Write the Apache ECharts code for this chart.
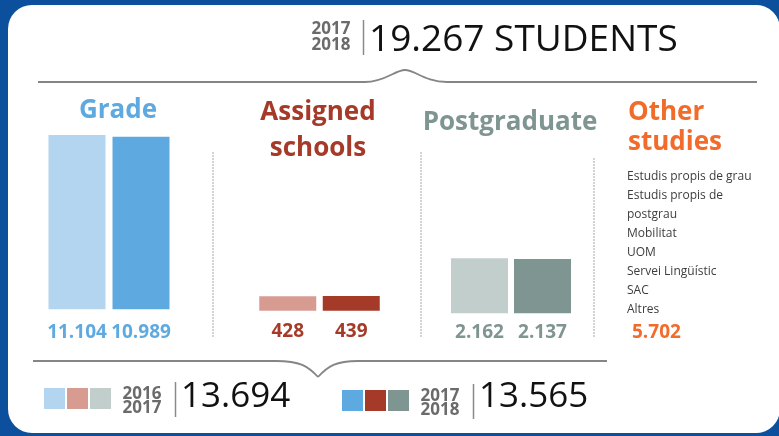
<!DOCTYPE html>
<html>
<head>
<meta charset="utf-8">
<script src="https://cdn.jsdelivr.net/npm/echarts@6/dist/echarts.min.js"></script>
<style>
  html, body { margin: 0; padding: 0; background: #0b4f9d; }
  #card {
    position: absolute; left: 8px; top: 5px; width: 772px; height: 428px;
    background: #fff; border-radius: 24px;
  }
  #chart { position: absolute; left: 0; top: 0; width: 779px; height: 436px; }
</style>
</head>
<body>
<div id="card"></div>
<div id="chart"></div>
<script>
// data
const groups = ['Grade', 'Assigned schools', 'Postgraduate']
const years = ['2016\n2017', '2017\n2018']
const values1617 = [11104, 428, 2162]
const values1718 = [10989, 439, 2137]
const yearTotals = [13694, 13565]
const totalStudents = 19267
const totalYear = '2017\n2018'
const otherTitle = 'Other studies'
const otherStudies = ['Estudis propis de grau', 'Estudis propis de\npostgrau', 'Mobilitat', 'UOM', 'Servei Lingüístic', 'SAC', 'Altres']
const otherTotal = 5702

// styles
const lightColors = ['#b3d5f0', '#d79b92', '#c2cecb']
const darkColors = ['#5eaae0', '#a63a28', '#7f9592']
const orange = '#f26b2a'
const FONT = '"Open Sans", "Noto Sans", sans-serif'

// layout per group (px)
const gridBoxes = [
  { left: 45, width: 128, top: 135, height: 174.3, labelDist: 14 },
  { left: 256, width: 127, top: 296, height: 14.7, labelDist: 11 },
  { left: 448, width: 126, top: 258.3, height: 55, labelDist: 10 },
]
const titleBoxes = [
  { x: 118, y: 111, lineHeight: 34 },
  { x: 318, y: 131, lineHeight: 36 },
  { x: 510, y: 123, lineHeight: 34 },
]
const separators = [[213, 152], [421, 152], [594, 158]]

// 11104 -> 11.104
const fmt = v => String(v).replace(/\B(?=(\d{3})+(?!\d))/g, '.')

const chart = echarts.init(document.getElementById('chart'), null, { renderer: 'canvas' })

const text = (x, y, str, font, fill, align = 'left', extra = {}) => ({
  type: 'text',
  x,
  y,
  style: {
    text: str,
    font,
    fill,
    align,
    textAlign: align,
    verticalAlign: 'middle',
    textVerticalAlign: 'middle',
    ...extra,
  },
})
const line = (x1, y1, x2, y2, stroke, lineWidth, lineDash) => ({
  type: 'line',
  shape: { x1, y1, x2, y2 },
  style: { stroke, lineWidth, lineDash },
})
const curve = (x1, y1, cpx1, cpy1, cpx2, cpy2, x2, y2) => ({
  type: 'bezierCurve',
  shape: { x1, y1, cpx1, cpy1, cpx2, cpy2, x2, y2 },
  style: { stroke: '#858585', lineWidth: 1.8, fill: null },
})

function buildGraphic() {
  const els = []
  // top header
  els.push(text(331, 37, totalYear, `bold 17px ${FONT}`, '#6b6b6b', 'center', { lineHeight: 16 }))
  els.push(line(363.5, 20, 363.5, 55, '#8a8a8a', 1.5))
  els.push(text(369, 40, fmt(totalStudents) + ' STUDENTS', `37px ${FONT}`, '#111'))
  // top brace
  els.push(line(38, 82, 365, 82, '#858585', 1.8))
  els.push(curve(365, 82, 385, 82, 395, 70, 405, 70))
  els.push(curve(405, 70, 415, 70, 425, 82, 447, 82))
  els.push(line(447, 82, 757, 82, '#858585', 1.8))
  // group titles
  groups.forEach((g, i) => {
    const t = titleBoxes[i]
    els.push(text(t.x, t.y, g.replace(' ', '\n'), `bold 26px ${FONT}`, darkColors[i], 'center', { lineHeight: t.lineHeight }))
  })
  els.push(text(628, 128, otherTitle.replace(' ', '\n'), `bold 26px ${FONT}`, orange, 'left', { lineHeight: 30 }))
  // dashed separators
  separators.forEach(([x, y]) => els.push(line(x, y, x, 337, '#a8a8a8', 1, [2, 1])))
  // other studies list
  els.push(text(627, 243, otherStudies.join('\n'), `12px ${FONT}`, '#3d3d3d', 'left', { lineHeight: 19 }))
  els.push(text(632, 333, fmt(otherTotal), `bold 19px ${FONT}`, orange))
  // bottom brace
  els.push(line(33, 361, 276, 361, '#858585', 1.8))
  els.push(curve(276, 361, 300, 361, 308, 366, 318, 377))
  els.push(curve(318, 377, 328, 366, 336, 361, 358, 361))
  els.push(line(358, 361, 607, 361, '#858585', 1.8))
  // bottom legend / totals
  const legendX = [44, 342]
  const legendDy = [0, 2]
  ;[lightColors, darkColors].forEach((cols, k) => {
    const x0 = legendX[k], dy = legendDy[k]
    cols.forEach((c, j) => {
      els.push({ type: 'rect', shape: { x: x0 + j * 23, y: 388 + dy, width: 21, height: 21 }, style: { fill: c } })
    })
    els.push(text(x0 + 98, 401 + dy, years[k], `bold 17px ${FONT}`, '#6b6b6b', 'center', { lineHeight: 14 }))
    els.push(line(x0 + 131.5, 382 + dy, x0 + 131.5, 417 + dy, '#8a8a8a', 1.5))
    els.push(text(x0 + 137, 397, fmt(yearTotals[k]), `35px ${FONT}`, '#111'))
  })
  return els
}

chart.setOption({
  animation: false,
  backgroundColor: 'transparent',
  grid: gridBoxes.map(b => ({ left: b.left, width: b.width, top: b.top, height: b.height, containLabel: false })),
  xAxis: groups.map((g, i) => ({ type: 'category', gridIndex: i, data: years, show: false })),
  yAxis: groups.map((g, i) => ({ type: 'value', gridIndex: i, min: 0, max: 'dataMax', show: false })),
  series: groups.map((g, i) => ({
    name: g,
    type: 'bar',
    xAxisIndex: i,
    yAxisIndex: i,
    barWidth: 57,
    silent: true,
    data: [
      { value: values1617[i], itemStyle: { color: lightColors[i] } },
      { value: values1718[i], itemStyle: { color: darkColors[i] } },
    ],
    label: {
      show: true,
      position: 'bottom',
      distance: gridBoxes[i].labelDist,
      formatter: p => fmt(p.value),
      color: darkColors[i],
      fontFamily: FONT,
      fontWeight: 'bold',
      fontSize: 19,
    },
  })),
  graphic: { elements: buildGraphic() },
})
</script>
</body>
</html>
